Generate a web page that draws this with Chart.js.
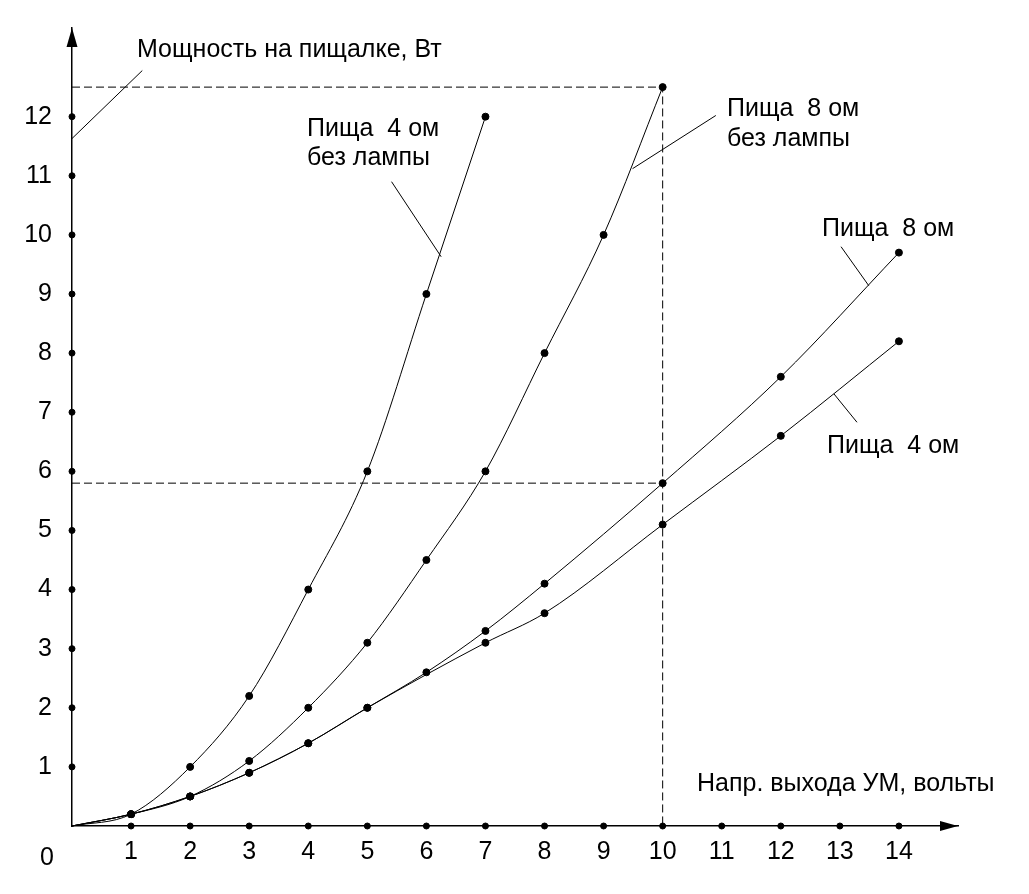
<!DOCTYPE html>
<html lang="ru">
<head>
    <meta charset="UTF-8" />
    <title>Мощность на пищалке</title>
    <script src="https://cdn.jsdelivr.net/npm/chart.js"></script>
    <style>
        html, body { margin: 0; padding: 0; background: #fff; }
        .wrap { width: 1029px; height: 894px; }
    </style>
</head>
<body>
    <div class="wrap">
        <canvas id="chart"></canvas>
    </div>

    <script>
        // Деления осей
        const xTicks = [0, 1, 2, 3, 4, 5, 6, 7, 8, 9, 10, 11, 12, 13, 14];
        const yTicks = [1, 2, 3, 4, 5, 6, 7, 8, 9, 10, 11, 12];

        // Пища 4 ом без лампы
        const p4bezX = [0, 1, 2, 3, 4, 5, 6, 7];
        const p4bezY = [0, 0.2, 1, 2.2, 4, 6, 9, 12];

        // Пища 8 ом без лампы
        const p8bezX = [0, 1, 2, 3, 4, 5, 6, 7, 8, 9, 10];
        const p8bezY = [0, 0.2, 0.5, 1.1, 2, 3.1, 4.5, 6, 8, 10, 12.5];

        // Пища 8 ом
        const p8X = [0, 1, 2, 3, 4, 5, 6, 7, 8, 10, 12, 14];
        const p8Y = [0, 0.2, 0.5, 0.9, 1.4, 2, 2.6, 3.3, 4.1, 5.8, 7.6, 9.7];

        // Пища 4 ом
        const p4X = [0, 1, 2, 3, 4, 5, 7, 8, 10, 12, 14];
        const p4Y = [0, 0.2, 0.5, 0.9, 1.4, 2, 3.1, 3.6, 5.1, 6.6, 8.2];

        // Пунктирные линии отсчёта
        const refX = 10;
        const refY1 = 12.5;
        const refY2 = 5.8;

        const FONT = '"Liberation Sans", Arial, sans-serif';
        Chart.defaults.font.family = FONT;
        Chart.defaults.color = '#000';

        function pts(xs, ys) {
            return xs.map((x, i) => ({ x: x, y: ys[i] }));
        }

        function curve(label, xs, ys) {
            return {
                label: label,
                data: pts(xs, ys),
                borderColor: '#000',
                backgroundColor: '#000',
                borderWidth: 1,
                pointRadius: xs.map(x => x === 0 ? 0 : 3.5),
                pointHoverRadius: 0,
                cubicInterpolationMode: 'monotone',
                clip: false
            };
        }

        function dashed(data) {
            return {
                label: 'ref',
                data: data,
                borderColor: '#000',
                borderWidth: 1,
                borderDash: [8, 4],
                pointRadius: 0,
                clip: false
            };
        }

        // Точки делений на осях
        const axisDots = xTicks.filter(x => x > 0).map(x => ({ x: x, y: 0 }))
            .concat(yTicks.map(y => ({ x: 0, y: y })));

        // Выноски к подписям (в единицах осей)
        const leaders = [
            [0, 11.63, 1.19, 12.78],
            [5.41, 10.9, 6.25, 9.63],
            [10.9, 12.02, 9.49, 11.12],
            [13.02, 9.8, 13.49, 9.14],
            [12.9, 7.31, 13.29, 6.83]
        ];

        const decor = {
            id: 'decor',
            afterDraw(chart) {
                const { ctx, chartArea: a, scales: { x, y } } = chart;
                ctx.save();
                ctx.strokeStyle = '#000';
                ctx.fillStyle = '#000';

                // стрелки осей
                ctx.beginPath();
                ctx.moveTo(a.left, a.top);
                ctx.lineTo(a.left - 5.5, a.top + 19);
                ctx.lineTo(a.left + 5.5, a.top + 19);
                ctx.closePath();
                ctx.fill();
                ctx.beginPath();
                ctx.moveTo(a.right, a.bottom);
                ctx.lineTo(a.right - 18, a.bottom - 5);
                ctx.lineTo(a.right - 18, a.bottom + 5);
                ctx.closePath();
                ctx.fill();

                // выноски
                ctx.lineWidth = 1;
                leaders.forEach(l => {
                    ctx.beginPath();
                    ctx.moveTo(x.getPixelForValue(l[0]), y.getPixelForValue(l[1]));
                    ctx.lineTo(x.getPixelForValue(l[2]), y.getPixelForValue(l[3]));
                    ctx.stroke();
                });

                // подписи
                ctx.font = '25px ' + FONT;
                ctx.textBaseline = 'alphabetic';
                ctx.textAlign = 'left';
                ctx.fillText('Мощность на пищалке, Вт', 137, 57);
                ctx.fillText('Пища  4 ом', 307, 136);
                ctx.fillText('без лампы', 307, 165);
                ctx.fillText('Пища  8 ом', 727, 116);
                ctx.fillText('без лампы', 727, 146);
                ctx.fillText('Пища  8 ом', 822, 236);
                ctx.fillText('Пища  4 ом', 827, 453);
                ctx.fillText('Напр. выхода УМ, вольты', 697, 791);

                ctx.textAlign = 'center';
                ctx.fillText('0', 47, 865);
                ctx.restore();
            }
        };

        const ctx = document.getElementById('chart').getContext('2d');
        const chart = new Chart(ctx, {
            type: 'line',
            data: {
                datasets: [
                    curve('Пища 4 ом без лампы', p4bezX, p4bezY),
                    curve('Пища 8 ом без лампы', p8bezX, p8bezY),
                    curve('Пища 8 ом', p8X, p8Y),
                    curve('Пища 4 ом', p4X, p4Y),
                    dashed([{ x: 0, y: refY1 }, { x: refX, y: refY1 }, { x: refX, y: 0 }]),
                    dashed([{ x: 0, y: refY2 }, { x: refX, y: refY2 }]),
                    {
                        type: 'scatter',
                        label: 'ticks',
                        data: axisDots,
                        backgroundColor: '#000',
                        borderColor: '#000',
                        pointRadius: 3,
                        showLine: false,
                        clip: false
                    }
                ]
            },
            options: {
                responsive: true,
                maintainAspectRatio: false,
                animation: false,
                events: [],
                layout: { padding: { top: 28, right: 71, left: 0, bottom: 0 } },
                plugins: {
                    legend: { display: false },
                    tooltip: { enabled: false }
                },
                scales: {
                    x: {
                        type: 'linear',
                        min: 0,
                        max: 15,
                        afterFit(s) { s.height = 68; s.paddingLeft = 0; s.paddingRight = 0; },
                        grid: { display: false, drawTicks: false },
                        border: { display: true, color: '#000', width: 1.5 },
                        ticks: {
                            stepSize: 1,
                            padding: 11,
                            font: { size: 25 },
                            color: '#000',
                            callback: v => (v > 0 && xTicks.includes(v)) ? String(v) : ''
                        }
                    },
                    y: {
                        type: 'linear',
                        min: 0,
                        max: 13.5,
                        afterFit(s) { s.width = 72; s.paddingTop = 0; s.paddingBottom = 0; },
                        grid: { display: false, drawTicks: false },
                        border: { display: true, color: '#000', width: 1.5 },
                        ticks: {
                            stepSize: 1,
                            padding: 20,
                            font: { size: 25 },
                            color: '#000',
                            callback: v => yTicks.includes(v) ? String(v) : ''
                        }
                    }
                }
            },
            plugins: [decor]
        });
    </script>
</body>
</html>
